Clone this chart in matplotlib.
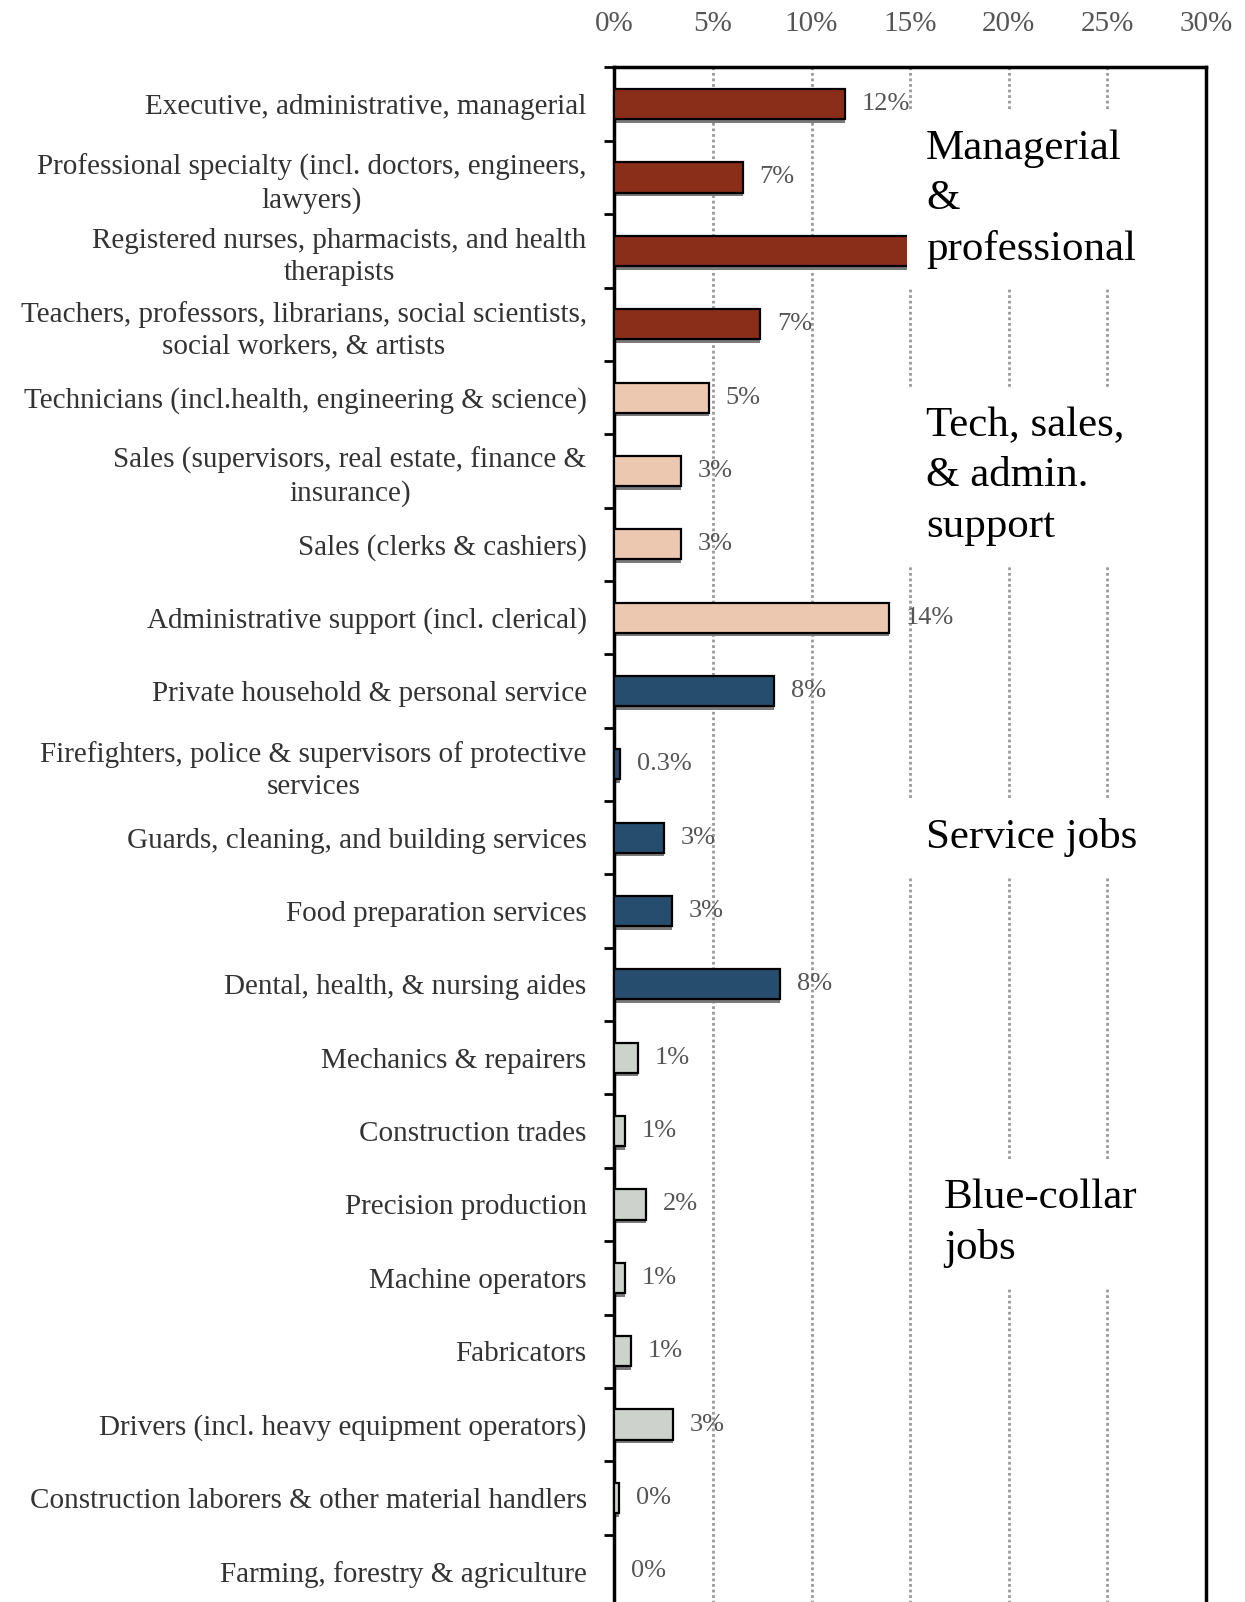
import numpy as np
import matplotlib
matplotlib.use('Agg')
import matplotlib.pyplot as plt

plt.rcParams['font.family'] = ['Liberation Serif', 'DejaVu Serif']

categories = [
    'Executive, administrative, managerial',
    'Professional specialty (incl. doctors, engineers,\nlawyers)',
    'Registered nurses, pharmacists, and health\ntherapists',
    'Teachers, professors, librarians, social scientists,\nsocial workers, & artists',
    'Technicians (incl.health, engineering & science)',
    'Sales (supervisors, real estate, finance &\ninsurance)',
    'Sales (clerks & cashiers)',
    'Administrative support (incl. clerical)',
    'Private household & personal service',
    'Firefighters, police & supervisors of protective\nservices',
    'Guards, cleaning, and building services',
    'Food preparation services',
    'Dental, health, & nursing aides',
    'Mechanics & repairers',
    'Construction trades',
    'Precision production',
    'Machine operators',
    'Fabricators',
    'Drivers (incl. heavy equipment operators)',
    'Construction laborers & other material handlers',
    'Farming, forestry & agriculture',
]
values = [11.7, 6.5, 17.0, 7.4, 4.8, 3.4, 3.4, 13.9, 8.1, 0.3, 2.5, 2.9, 8.4,
          1.2, 0.55, 1.6, 0.55, 0.85, 2.95, 0.25, 0.0]
# the nurses bar label is hidden behind the group text in the original
value_labels = ['12%', '7%', '', '7%', '5%', '3%', '3%', '14%', '8%', '0.3%', '3%',
                '3%', '8%', '1%', '1%', '2%', '1%', '1%', '3%', '0%', '0%']
groups = [0, 0, 0, 0, 1, 1, 1, 1, 2, 2, 2, 2, 2, 3, 3, 3, 3, 3, 3, 3, 3]
group_colors = ['#8a2e1a', '#ecc8b0', '#264d6e', '#cdd2cc']
group_names = ['Managerial\n&\nprofessional', 'Tech, sales,\n& admin.\nsupport',
               'Service jobs', 'Blue-collar\njobs']
group_text_pos = [(15.8, 1.3), (15.8, 5.07), (15.8, 10.0), (16.7, 15.26)]
xticks = [0, 5, 10, 15, 20, 25, 30]

fig = plt.figure(figsize=(12.45, 16.02), dpi=100)
ax = fig.add_axes([0.4935, -0.0037, 0.4752, 0.9616])

y = np.arange(len(categories))
colors = [group_colors[g] for g in groups]

# little grey shadow under each bar
ax.barh(y + 0.05, values, height=0.41, color='#7a7a7a', zorder=2)
ax.barh(y, values, height=0.41, color=colors, edgecolor='black', linewidth=1.6, zorder=3)

for yi, v, lab in zip(y, values, value_labels):
    if lab:
        ax.annotate(lab, (v, yi), xytext=(12, 0), textcoords='offset points',
                    va='center', ha='left', fontsize=19, color='#555555', zorder=4)

for name, (tx, ty) in zip(group_names, group_text_pos):
    ax.text(tx, ty, name, fontsize=31, ha='left', va='center', linespacing=1.4,
            color='black', zorder=6,
            bbox=dict(boxstyle='square,pad=0.45', facecolor='white', edgecolor='none'))

ax.set_xlim(0, 30)
ax.set_ylim(len(categories) - 0.5, -0.5)
ax.set_xticks(xticks)
ax.set_xticklabels([f'{t}%' for t in xticks])
ax.xaxis.tick_top()
ax.tick_params(axis='x', length=0, pad=22, labelsize=21, labelcolor='#555555')

ax.set_yticks(y)
ax.set_yticklabels(categories, fontsize=21, color='#333333', multialignment='center',
                   linespacing=1.3)
ax.set_yticks(np.arange(len(categories) + 1) - 0.5, minor=True)
ax.tick_params(axis='y', which='major', length=0, pad=20)
ax.tick_params(axis='y', which='minor', length=7, width=2, color='black', direction='out')

for t in xticks[1:-1]:
    ax.axvline(t, color='#999999', linestyle=(0, (1, 1)), linewidth=2, zorder=1)

for side in ['left', 'right', 'top']:
    ax.spines[side].set_linewidth(2.5)
    ax.spines[side].set_color('black')
ax.spines['bottom'].set_visible(False)

fig.savefig('out.png', dpi=100)
